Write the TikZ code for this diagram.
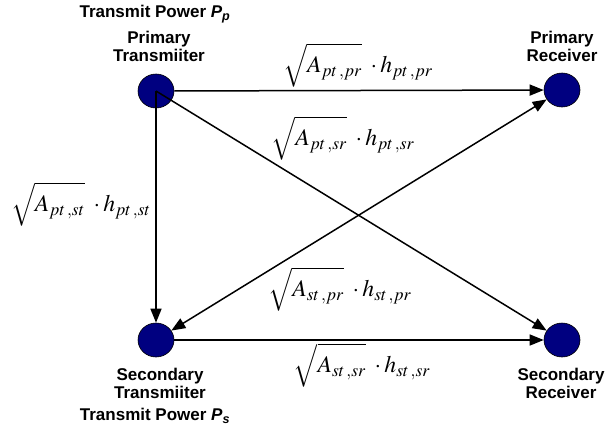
\documentclass[tikz,border=0pt]{standalone}
\usepackage{mathptmx}
\usepackage{fontspec}
\setmainfont{Liberation Sans}
\usetikzlibrary{arrows.meta,shapes.geometric}
\definecolor{nodeblue}{RGB}{0,0,128}
\tikzset{
  station/.style={ellipse, draw=black, line width=0.6pt, fill=nodeblue, minimum width=36pt, minimum height=34pt, inner sep=0pt},
  link/.style={line width=1.5pt, -{Triangle[length=14pt,width=11pt]}},
  blink/.style={line width=1.5pt, {Triangle[length=14pt,width=11pt]}-{Triangle[length=14pt,width=11pt]}},
  lbl/.style={font=\fontsize{17}{18}\selectfont\bfseries, align=center, inner sep=0pt},
  gain/.style={font=\fontsize{21}{24}\selectfont, inner sep=0pt}
}
\newcommand{\gainexpr}[2]{\scalebox{1.13}{$\sqrt{\rule[-0.38em]{0pt}{1.3em}A_{#1\,,#2}}\;\cdot h_{#1\,,#2}$}}
\begin{document}
\begin{tikzpicture}[x=1pt,y=-1pt]
\useasboundingbox (0,0) rectangle (605,429);
% stations
\node[station] (pt) at (156,91) {};
\node[station] (pr) at (562,90) {};
\node[station] (st) at (156,340) {};
\node[station] (sr) at (562,340) {};
\coordinate (ptc) at (156,91);
% connectors
\draw[link] (pt) -- (pr);
\draw[link] (ptc) -- (st);
\draw[link] (ptc) -- (sr);
\draw[blink] (st) -- (pr);
\draw[link] (st) -- (sr);
% labels
\node[lbl] (tpp) at (155,14) {Transmit Power \textit{P\textsubscript{p}}};
\node[lbl] (ptl) at (159,46) {Primary\\Transmiiter};
\node[lbl] (prl) at (562,46) {Primary\\Receiver};
\node[lbl] (stl) at (160,383) {Secondary\\Transmiiter};
\node[lbl] (tps) at (155,416) {Transmit Power \textit{P\textsubscript{s}}};
\node[lbl] (srl) at (561,383) {Secondary\\Receiver};
% gains
\node[gain] (g1) at (358,65) {\gainexpr{pt}{pr}};
\node[gain] (g2) at (343,138) {\gainexpr{pt}{sr}};
\node[gain] (g3) at (81,204) {\gainexpr{pt}{st}};
\node[gain] (g4) at (340,289) {\gainexpr{st}{pr}};
\node[gain] (g5) at (362,365) {\gainexpr{st}{sr}};
\end{tikzpicture}
\end{document}
